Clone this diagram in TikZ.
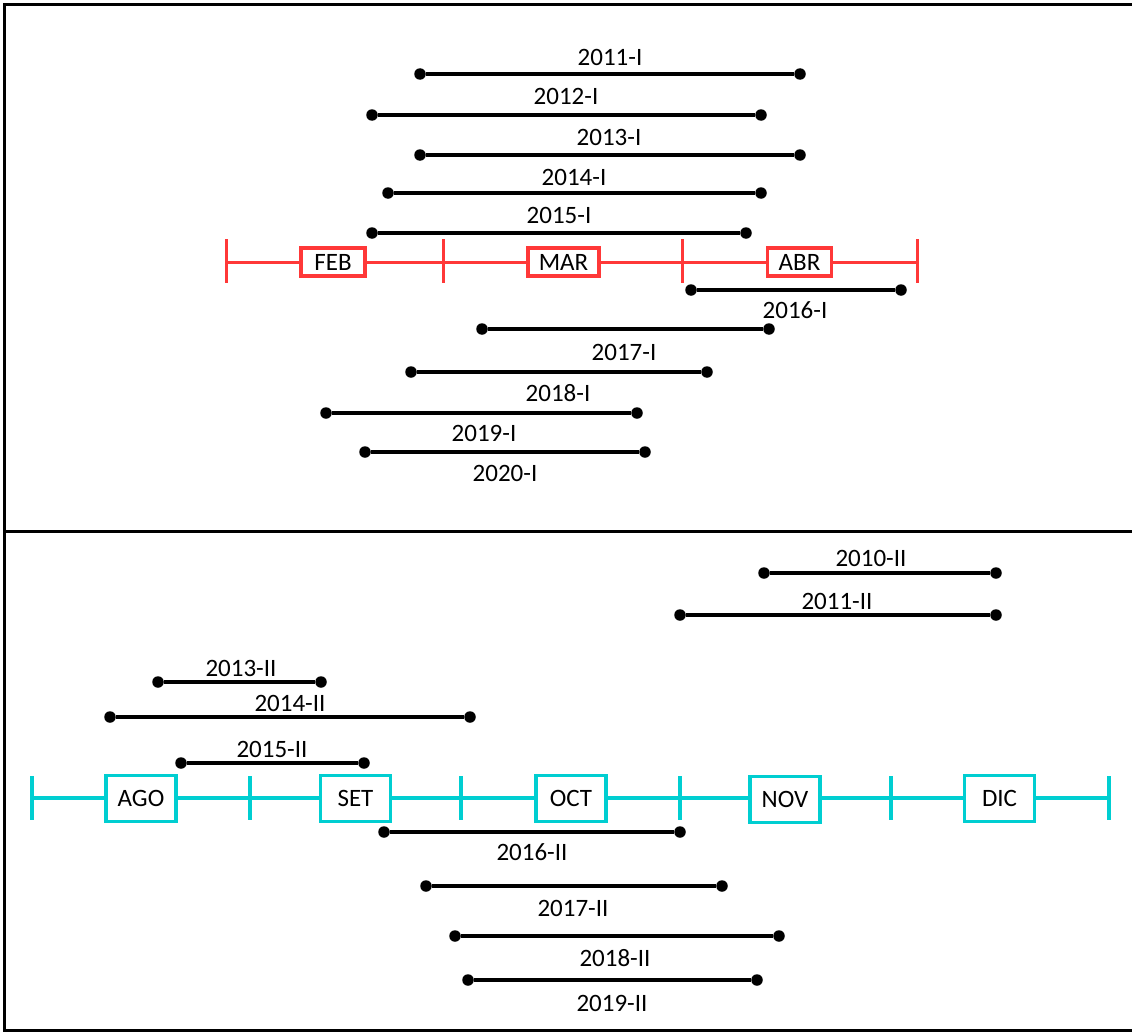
\documentclass[tikz,border=0pt]{standalone}
\usepackage{fontspec}
\setmainfont{Carlito}
\definecolor{axred}{RGB}{255,56,56}
\definecolor{axcyan}{RGB}{0,206,209}
\begin{document}
\begin{tikzpicture}[x=1pt,y=-1pt,
  frame/.style={line width=3pt,black},
  period/.style={line width=4pt,black},
  dot/.style={circle,fill=black,inner sep=0pt,minimum size=11.5pt},
  lbl/.style={font=\fontsize{25}{29}\selectfont,inner sep=0pt},
  redaxis/.style={line width=3pt,axred},
  cyanaxis/.style={line width=3.5pt,axcyan},
  redbox/.style={draw=axred,line width=3.5pt,fill=white,minimum width=64pt,minimum height=28pt,inner xsep=11pt,inner ysep=0pt,font=\fontsize{25}{29}\selectfont},
  cyanbox/.style={draw=axcyan,line width=3.5pt,fill=white,minimum width=70pt,minimum height=46pt,inner sep=0pt,font=\fontsize{25}{29}\selectfont}
]
\useasboundingbox (0,0) rectangle (1132,1033);
% frame
\coordinate (f1) at (1132,5);
\coordinate (f2) at (4,5);
\coordinate (f3) at (4,1030);
\coordinate (f4) at (1132,1030);
\coordinate (d1) at (4,531);
\coordinate (d2) at (1132,531);
\draw[frame] (f1) -- (f2) -- (f3) -- (f4);
\draw[frame] (d1) -- (d2);

% red axis
\foreach \i/\x in {0/226,1/443,2/682,3/917}{
  \coordinate (rt\i) at (\x,239);
  \coordinate (rb\i) at (\x,283);
  \coordinate (rm\i) at (\x,262);
  \draw[redaxis] (rt\i) -- (rb\i);
}
\draw[redaxis] (rm0) -- (rm3);
\node[redbox] (feb) at (333,262) {FEB};
\node[redbox] (mar) at (563.5,262) {MAR};
\node[redbox] (abr) at (799.5,262) {ABR};

% cyan axis
\foreach \i/\x in {0/32,1/250,2/461,3/680,4/891,5/1109}{
  \coordinate (ct\i) at (\x,776);
  \coordinate (cb\i) at (\x,820);
  \coordinate (cm\i) at (\x,798);
  \draw[cyanaxis] (ct\i) -- (cb\i);
}
\draw[cyanaxis] (cm0) -- (cm5);
\node[cyanbox] (ago) at (141,798.5) {AGO};
\node[cyanbox] (set) at (355.5,798.5) {SET};
\node[cyanbox] (oct) at (571,798.5) {OCT};
\node[cyanbox] (nov) at (785,799.5) {NOV};
\node[cyanbox] (dic) at (999.5,798.5) {DIC};

% periods
\foreach \n/\xa/\xb/\y/\lx/\ly/\t in {
  11I/420/800/74/610/57/2011-I,
  12I/372/761/115/566/96/2012-I,
  13I/420/800/155/609/137/2013-I,
  14I/388/761/193/574/177/2014-I,
  15I/372/746/233/559/215/2015-I,
  16I/691/901/290/795/310/2016-I,
  17I/482/769/329/624/352/2017-I,
  18I/411/707/372/558/393/2018-I,
  19I/326/637/413/484/433/2019-I,
  20I/365/645/452/505/473/2020-I,
  10II/764/996/573/871/558/2010-II,
  11II/680/996/615/837/601/2011-II,
  13II/158/321/682/241/668/2013-II,
  14II/110/470/717/290/703/2014-II,
  15II/181/364/763/272/749/2015-II,
  16II/384/680/832/532/852/2016-II,
  17II/426/722/886/573/908/2017-II,
  18II/455/779/936/615/958/2018-II,
  19II/468/757/980/612/1003/2019-II}{
  \node[dot] (s\n) at (\xa,\y) {};
  \node[dot] (e\n) at (\xb,\y) {};
  \draw[period] (s\n) -- (e\n);
  \node[lbl] (l\n) at (\lx,\ly) {\t};
}
\end{tikzpicture}
\end{document}
